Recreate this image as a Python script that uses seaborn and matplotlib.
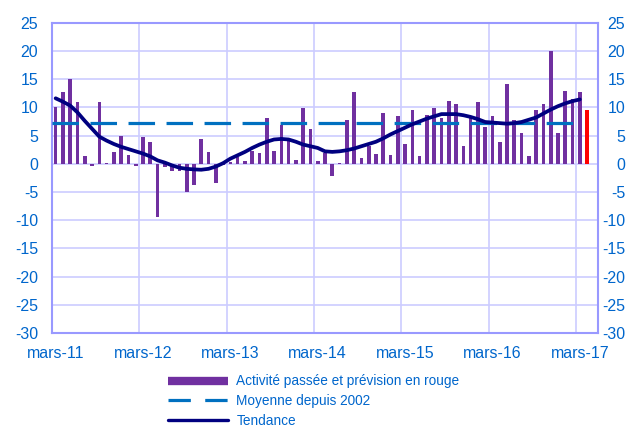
import numpy as np
import pandas as pd
import matplotlib
matplotlib.use("Agg")
import matplotlib.pyplot as plt
import seaborn as sns
from matplotlib.lines import Line2D

# ---- data ----
activity = [10.1, 12.7, 15.0, 11.0, 1.3, -0.35, 11.0, 0.1, 2.1, 5.0,
            1.6, -0.4, 4.7, 3.8, -9.5, -0.5, -1.3, -1.3, -5.0, -3.8,
            4.4, 2.1, -3.5, -0.3, 0.3, 1.2, 0.4, 2.2, 1.9, 8.1,
            2.2, 6.9, 4.4, 0.7, 9.8, 6.2, 0.5, 1.9, -2.1, 0.2,
            7.8, 12.7, 1.0, 3.2, 1.8, 9.0, 1.5, 8.4, 3.5, 9.5,
            1.3, 8.7, 9.8, 8.1, 11.2, 10.6, 3.2, 8.4, 11.0, 6.6,
            8.4, 3.8, 14.1, 7.8, 5.5, 1.3, 9.5, 10.6, 19.9, 5.5,
            12.9, 11.5, 12.7]
forecast = [9.5]
trend = [11.6, 11.0, 10.3, 9.1, 7.6, 6.2, 4.8, 4.1, 3.5, 3.0,
         2.6, 2.2, 1.8, 1.3, 0.6, 0.2, -0.3, -0.7, -0.9, -1.0,
         -1.06, -0.9, -0.5, 0.1, 0.9, 1.5, 2.1, 2.8, 3.4, 3.9,
         4.3, 4.4, 4.3, 3.9, 3.4, 3.1, 2.8, 2.2, 2.1, 2.2,
         2.4, 2.7, 3.1, 3.5, 3.9, 4.5, 5.2, 5.8, 6.4, 7.0,
         7.5, 8.0, 8.4, 8.8, 8.8, 8.8, 8.6, 8.3, 7.9, 7.4,
         7.3, 7.2, 7.1, 7.2, 7.4, 7.8, 8.2, 8.9, 9.6, 10.2,
         10.7, 11.1, 11.4]
mean_since_2002 = 7.3
xtick_labels = ["mars-11", "mars-12", "mars-13", "mars-14", "mars-15", "mars-16", "mars-17"]
y_ticks = list(range(-30, 30, 5))
legend_labels = ["Activité passée et prévision en rouge", "Moyenne depuis 2002", "Tendance"]

PURPLE = "#7030A0"
RED = "#FF0000"
NAVY = "#000080"
MEANBLUE = "#0070C0"
TXT = "#0066CC"
SPINE = "#9999FF"
GRID = "#CCCCFF"

values = activity + forecast
df = pd.DataFrame({
    "idx": np.arange(len(values)),
    "val": values,
    "kind": ["past"] * len(activity) + ["forecast"] * len(forecast),
})
tdf = pd.DataFrame({"idx": np.arange(len(trend)), "val": trend})

sns.set_theme(style="white")
plt.rcParams["font.family"] = ["Liberation Sans", "DejaVu Sans"]

fig = plt.figure(figsize=(6.27, 4.28), dpi=100)
ax = fig.add_axes([52 / 627, 1 - 333 / 428, (598 - 52) / 627, (333 - 22.7) / 428])

sns.barplot(data=df, x="idx", y="val", hue="kind", palette={"past": PURPLE, "forecast": RED},
            native_scale=True, width=0.5, dodge=False, legend=False, ax=ax,
            linewidth=0, saturation=1)
ax.hlines(mean_since_2002, -0.5, len(activity) - 1, colors=MEANBLUE, linewidth=2.3,
          linestyles=(0, (8.3, 3.6)), zorder=3)
sns.lineplot(data=tdf, x="idx", y="val", color=NAVY, linewidth=2.7, ax=ax, zorder=4)

n_cat = len(values) + 1
ax.set_xlim(-0.5, n_cat - 0.5)
ax.set_ylim(-30, 25)
ax.set_yticks(y_ticks)
ax.set_yticklabels([str(v) for v in y_ticks])
ax.set_xticks([12 * k - 0.5 for k in range(7)], minor=False)
ax.set_xticklabels([])
ax.set_xticks([12 * k for k in range(7)], minor=True)
ax.set_xticklabels(xtick_labels, minor=True)
ax.grid(True, which="major", color=GRID, linewidth=1.2)
ax.set_axisbelow(True)
ax.set_xlabel("")
ax.set_ylabel("")
for s in ax.spines.values():
    s.set_color(SPINE)
    s.set_linewidth(1.5)
    s.set_visible(True)

ax.tick_params(axis="y", which="both", length=0, labelsize=11.5, labelcolor=TXT, pad=10)
ax.tick_params(axis="x", which="both", length=0, labelsize=11.5, labelcolor=TXT, pad=9)

ax2 = ax.twinx()
ax2.set_ylim(-30, 25)
ax2.set_yticks(y_ticks)
ax2.set_yticklabels([str(v) for v in y_ticks], ha="right")
ax2.tick_params(axis="y", length=0, labelsize=11.5, labelcolor=TXT, pad=19.5)
ax2.grid(False)
for s in ax2.spines.values():
    s.set_visible(False)

handles = [
    Line2D([0], [0], color=PURPLE, linewidth=6, solid_capstyle="butt"),
    Line2D([0], [0], color=MEANBLUE, linewidth=2.3, linestyle=(0, (7, 4.5))),
    Line2D([0], [0], color=NAVY, linewidth=2.4),
]
fig.legend(handles, legend_labels, loc="upper left", bbox_to_anchor=(163 / 627, 1 - 369 / 428),
           frameon=False, fontsize=9.8, labelcolor=TXT, handlelength=4.4, handletextpad=0.6,
           labelspacing=0.42, borderaxespad=0)

fig.savefig("out.png", dpi=100)
